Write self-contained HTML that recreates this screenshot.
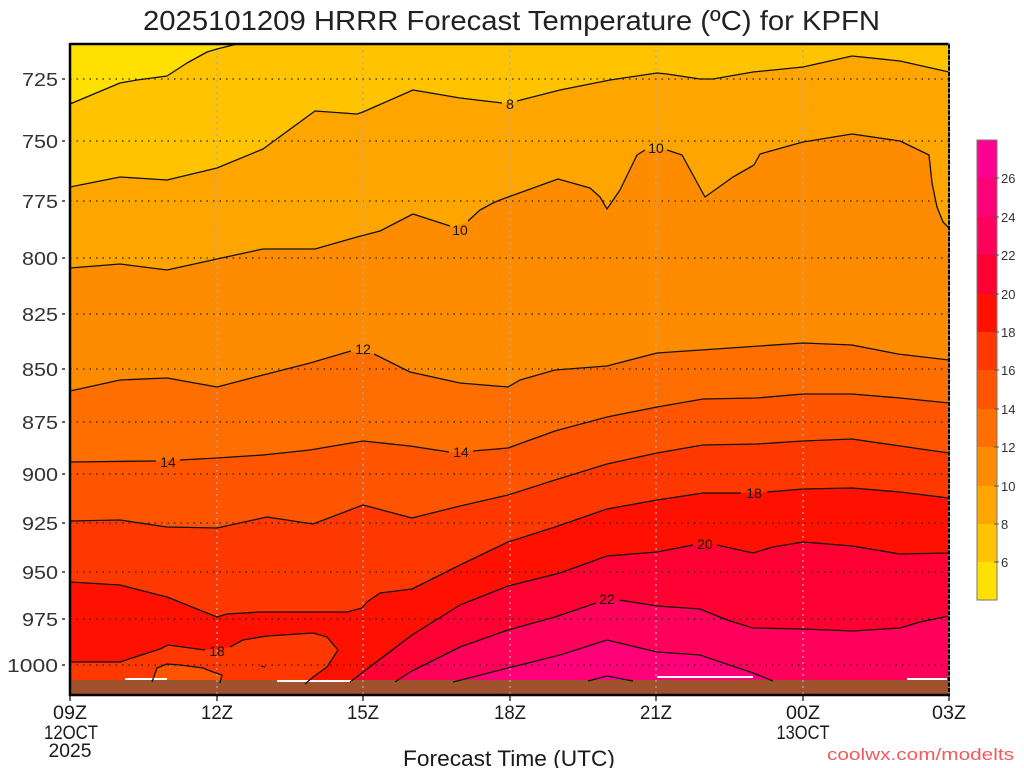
<!DOCTYPE html>
<html><head><meta charset="utf-8"><style>
html,body{margin:0;padding:0;background:#fff;}
svg{display:block;}
text{font-family:"Liberation Sans",sans-serif;}
</style></head><body>
<svg width="1024" height="768" viewBox="0 0 1024 768" xmlns="http://www.w3.org/2000/svg">
<rect x="0" y="0" width="1024" height="768" fill="#fff"/>
<defs><clipPath id="pc"><rect x="70" y="44" width="879" height="651"/></clipPath></defs>
<g clip-path="url(#pc)">
<rect x="70" y="44" width="879" height="651" fill="#FFE000"/>
<polygon fill="#FFC300" points="70,104 120,83 137,80 167,76 187,63 207,52 217,49 237,44 949,44 949,695 70,695"/>
<polygon fill="#FFA500" points="70,187 120,177 167,180 217,168 263,149 315,111 357,114 363,112 413,90 460,98 505,103 513,102 560,90 610,80 657,73 667,74 700,79 713,79 753,72 803,67 852,56 900,61 949,72 949,695 70,695"/>
<polygon fill="#FF8C00" points="70,268 120,264 167,270 217,259 263,249 315,249 357,237 380,231 413,214 452,227 467,222 480,210 493,203 500,200 558,179 590,188 600,197 607,209 620,190 637,155 647,150 667,150 682,155 705,197 733,177 754,165 760,154 767,152 803,142 852,134 900,141 929,155 932,183 937,207 943,222 949,228 949,695 70,695"/>
<polygon fill="#FF6E00" points="70,391 120,380 167,378 217,387 263,375 310,363 350,352 373,354 410,372 460,383 508,387 520,380 555,370 607,366 657,353 803,343 852,345 898,354 949,360 949,695 70,695"/>
<polygon fill="#FF5500" points="70,462 158,461 178,460 217,458 263,455 310,450 363,441 410,446 450,452 472,451 508,448 555,431 607,417 657,407 703,399 757,398 803,394 852,394 900,398 949,403 949,695 70,695"/>
<polygon fill="#FF3800" points="70,521 120,520 167,527 217,528 267,517 313,524 363,505 412,518 460,506 508,495 555,480 607,464 657,453 703,445 757,444 803,441 852,439 900,446 949,453 949,695 70,695"/>
<polygon fill="#FF1000" points="70,582 120,585 167,597 217,617 227,614 260,612 347,612 362,608 367,602 380,593 412,589 460,565 508,542 555,527 607,509 657,500 703,493 742,493 767,492 803,489 852,488 900,492 949,498 949,695 70,695"/>
<polygon fill="#FF3800" points="70,662 120,662 160,649 168,645 205,650 230,647 243,640 267,636 313,633 327,637 338,650 327,667 313,677 305,684 305,695 70,695"/>
<polygon fill="#FF5500" points="152,682 157,668 167,664 180,665 203,668 213,672 222,675 220,684"/>
<polygon fill="#FF0032" points="350,682 412,635 460,605 508,586 560,573 607,556 657,552 694,545 717,545 753,553 773,547 803,542 852,546 900,554 949,553 949,695 350,695"/>
<polygon fill="#FF005A" points="395,682 410,672 460,647 508,630 555,617 598,603 617,600 657,606 700,609 727,620 753,628 803,629 853,631 900,628 920,622 949,616 949,695 395,695"/>
<polygon fill="#FF0078" points="453,682 508,668 560,655 607,640 657,652 700,655 753,673 773,682"/>
<polygon fill="#FF0090" points="588,681 607,676 633,681"/>
<!-- ground -->
<rect x="70" y="680" width="879" height="15" fill="#A0522D"/>
<rect x="125" y="678" width="42" height="2" fill="#fff"/>
<rect x="277" y="680" width="75" height="2" fill="#fff"/>
<rect x="657" y="676" width="96" height="2" fill="#fff"/>
<rect x="907" y="678" width="40" height="2" fill="#fff"/>
<!-- grid -->
<g stroke="#222" stroke-width="1.3" stroke-dasharray="1.5 5">
<line x1="70" y1="79" x2="949" y2="79"/>
<line x1="70" y1="141" x2="949" y2="141"/>
<line x1="70" y1="201" x2="949" y2="201"/>
<line x1="70" y1="258" x2="949" y2="258"/>
<line x1="70" y1="314" x2="949" y2="314"/>
<line x1="70" y1="369" x2="949" y2="369"/>
<line x1="70" y1="422" x2="949" y2="422"/>
<line x1="70" y1="474" x2="949" y2="474"/>
<line x1="70" y1="523" x2="949" y2="523"/>
<line x1="70" y1="572" x2="949" y2="572"/>
<line x1="70" y1="619" x2="949" y2="619"/>
<line x1="70" y1="665" x2="949" y2="665"/>
</g>
<g stroke="#aaa" stroke-width="1.3" stroke-dasharray="2 4">
<line x1="217" y1="44" x2="217" y2="695"/>
<line x1="363" y1="44" x2="363" y2="695"/>
<line x1="510" y1="44" x2="510" y2="695"/>
<line x1="656" y1="44" x2="656" y2="695"/>
<line x1="803" y1="44" x2="803" y2="695"/>
</g>
<!-- contour lines -->
<g fill="none" stroke="#111" stroke-width="1.3" stroke-linejoin="round">
<polyline points="70,104 120,83 137,80 167,76 187,63 207,52 217,49 237,44"/>
<polyline points="70,187 120,177 167,180 217,168 263,149 315,111 357,114 363,112 413,90 460,98 502,103"/>
<polyline points="517,101 560,90 610,80 657,73 667,74 700,79 713,79 753,72 803,67 852,56 900,61 949,72"/>
<polyline points="70,268 120,264 167,270 217,259 263,249 315,249 357,237 380,231 413,214 450,226"/>
<polyline points="468,221 480,210 493,203 500,200 558,179 590,188 600,197 607,209 620,190 637,155 645,150"/>
<polyline points="667,150 682,155 705,197 733,177 754,165 760,154 767,152 803,142 852,134 900,141 929,155 932,183 937,207 943,222 949,228"/>
<polyline points="70,391 120,380 167,378 217,387 263,375 310,363 351,351"/>
<polyline points="374,354 410,372 460,383 508,387 520,380 555,370 607,366 657,353 803,343 852,345 898,354 949,360"/>
<polyline points="70,462 156,461"/>
<polyline points="180,460 217,458 263,455 310,450 363,441 410,446 449,452"/>
<polyline points="473,451 508,448 555,431 607,417 657,407 703,399 757,398 803,394 852,394 900,398 949,403"/>
<polyline points="70,521 120,520 167,527 217,528 267,517 313,524 363,505 412,518 460,506 508,495 555,480 607,464 657,453 703,445 757,444 803,441 852,439 900,446 949,453"/>
<polyline points="70,582 120,585 167,597 217,617 227,614 260,612 347,612 362,608 367,602 380,593 412,589 460,565 508,542 555,527 607,509 657,500 703,493 741,493"/>
<polyline points="767,492 803,489 852,488 900,492 949,498"/>
<polyline points="70,662 120,662 160,649 168,645 205,650"/>
<polyline points="230,647 243,640 267,636 313,633 327,637 338,650 327,667 313,677 305,684"/>
<polyline points="152,682 157,668 167,664 180,665 203,668 213,672 222,675 220,683"/>
<polyline points="350,682 412,635 460,605 508,586 560,573 607,556 657,552 693,545"/>
<polyline points="717,545 753,553 773,547 803,542 852,546 900,554 949,553"/>
<polyline points="395,682 410,672 460,647 508,630 555,617 596,603"/>
<polyline points="619,600 657,606 700,609 727,620 753,628 803,629 853,631 900,628 920,622 949,616"/>
<polyline points="453,682 508,668 560,655 607,640 657,652 700,655 753,673 773,681"/>
<polyline points="588,681 607,676 633,681"/>
<line x1="261" y1="666" x2="265" y2="667"/>
</g>
<!-- contour labels -->
<g font-size="14" fill="#111" text-anchor="middle">
<text x="510" y="109">8</text>
<text x="460" y="235">10</text>
<text x="656" y="153">10</text>
<text x="363" y="354">12</text>
<text x="168" y="467">14</text>
<text x="461" y="457">14</text>
<text x="754" y="498">18</text>
<text x="217" y="656">18</text>
<text x="705" y="549">20</text>
<text x="607" y="604">22</text>
</g>
</g>
<!-- frame -->
<line x1="70" y1="44" x2="949" y2="44" stroke="#000" stroke-width="2.5"/>
<line x1="70" y1="43" x2="70" y2="696" stroke="#000" stroke-width="2.5"/>
<line x1="69" y1="695" x2="950" y2="695" stroke="#000" stroke-width="2.5"/>
<line x1="949" y1="43" x2="949" y2="696" stroke="#000" stroke-width="2"/>
<line x1="949" y1="43" x2="949" y2="696" stroke="#fff" stroke-width="1" stroke-dasharray="1.5 4"/>
<!-- ticks -->
<g stroke="#000" stroke-width="1.2">
<line x1="62" y1="79" x2="65" y2="79"/><line x1="62" y1="141" x2="65" y2="141"/>
<line x1="62" y1="201" x2="65" y2="201"/><line x1="62" y1="258" x2="65" y2="258"/>
<line x1="62" y1="314" x2="65" y2="314"/><line x1="62" y1="369" x2="65" y2="369"/>
<line x1="62" y1="422" x2="65" y2="422"/><line x1="62" y1="474" x2="65" y2="474"/>
<line x1="62" y1="523" x2="65" y2="523"/><line x1="62" y1="572" x2="65" y2="572"/>
<line x1="62" y1="619" x2="65" y2="619"/><line x1="62" y1="665" x2="65" y2="665"/>
<line x1="70" y1="695" x2="70" y2="701"/><line x1="217" y1="695" x2="217" y2="701"/>
<line x1="363" y1="695" x2="363" y2="701"/><line x1="510" y1="695" x2="510" y2="701"/>
<line x1="656" y1="695" x2="656" y2="701"/><line x1="803" y1="695" x2="803" y2="701"/>
<line x1="949" y1="695" x2="949" y2="701"/>
</g>
<g font-size="18" fill="#333" text-anchor="end">
<text x="58" y="86" textLength="36" lengthAdjust="spacingAndGlyphs">725</text>
<text x="58" y="148" textLength="36" lengthAdjust="spacingAndGlyphs">750</text>
<text x="58" y="208" textLength="36" lengthAdjust="spacingAndGlyphs">775</text>
<text x="58" y="265" textLength="36" lengthAdjust="spacingAndGlyphs">800</text>
<text x="58" y="321" textLength="36" lengthAdjust="spacingAndGlyphs">825</text>
<text x="58" y="376" textLength="36" lengthAdjust="spacingAndGlyphs">850</text>
<text x="58" y="429" textLength="36" lengthAdjust="spacingAndGlyphs">875</text>
<text x="58" y="481" textLength="36" lengthAdjust="spacingAndGlyphs">900</text>
<text x="58" y="530" textLength="36" lengthAdjust="spacingAndGlyphs">925</text>
<text x="58" y="579" textLength="36" lengthAdjust="spacingAndGlyphs">950</text>
<text x="58" y="626" textLength="36" lengthAdjust="spacingAndGlyphs">975</text>
<text x="58" y="672" textLength="51" lengthAdjust="spacingAndGlyphs">1000</text>
</g>
<g font-size="19" fill="#1a1a1a" text-anchor="middle">
<text x="70" y="719" textLength="34" lengthAdjust="spacingAndGlyphs">09Z</text>
<text x="71" y="739" textLength="54" lengthAdjust="spacingAndGlyphs">12OCT</text>
<text x="70" y="757" textLength="43" lengthAdjust="spacingAndGlyphs">2025</text>
<text x="217" y="719" textLength="32" lengthAdjust="spacingAndGlyphs">12Z</text>
<text x="363" y="719" textLength="32" lengthAdjust="spacingAndGlyphs">15Z</text>
<text x="510" y="719" textLength="32" lengthAdjust="spacingAndGlyphs">18Z</text>
<text x="656" y="719" textLength="32" lengthAdjust="spacingAndGlyphs">21Z</text>
<text x="803" y="719" textLength="34" lengthAdjust="spacingAndGlyphs">00Z</text>
<text x="803" y="739" textLength="53" lengthAdjust="spacingAndGlyphs">13OCT</text>
<text x="949" y="719" textLength="34" lengthAdjust="spacingAndGlyphs">03Z</text>
</g>
<text x="143" y="30" font-size="28" fill="#222" textLength="737" lengthAdjust="spacingAndGlyphs">2025101209 HRRR Forecast Temperature (ºC) for KPFN</text>
<text x="403" y="766" font-size="22" fill="#1a1a1a" textLength="212" lengthAdjust="spacingAndGlyphs">Forecast Time (UTC)</text>
<text x="827" y="760" font-size="17" fill="#F05A5A" textLength="187" lengthAdjust="spacingAndGlyphs">coolwx.com/modelts</text>
<!-- colorbar -->
<g>
<rect x="977" y="140" width="20" height="38" fill="#FF0090"/>
<rect x="977" y="178" width="20" height="39" fill="#FF0078"/>
<rect x="977" y="217" width="20" height="38" fill="#FF005A"/>
<rect x="977" y="255" width="20" height="39" fill="#FF0032"/>
<rect x="977" y="294" width="20" height="38" fill="#FF1000"/>
<rect x="977" y="332" width="20" height="38" fill="#FF3800"/>
<rect x="977" y="370" width="20" height="39" fill="#FF5500"/>
<rect x="977" y="409" width="20" height="38" fill="#FF6E00"/>
<rect x="977" y="447" width="20" height="39" fill="#FF8C00"/>
<rect x="977" y="486" width="20" height="38" fill="#FFA500"/>
<rect x="977" y="524" width="20" height="38" fill="#FFC300"/>
<rect x="977" y="562" width="20" height="38" fill="#FFE000"/>
<rect x="977" y="140" width="20" height="460" fill="none" stroke="#777" stroke-width="1"/>
<g stroke="#555" stroke-width="1">
<line x1="994" y1="178" x2="999" y2="178"/><line x1="994" y1="217" x2="999" y2="217"/>
<line x1="994" y1="255" x2="999" y2="255"/><line x1="994" y1="294" x2="999" y2="294"/>
<line x1="994" y1="332" x2="999" y2="332"/><line x1="994" y1="370" x2="999" y2="370"/>
<line x1="994" y1="409" x2="999" y2="409"/><line x1="994" y1="447" x2="999" y2="447"/>
<line x1="994" y1="486" x2="999" y2="486"/><line x1="994" y1="524" x2="999" y2="524"/>
<line x1="994" y1="562" x2="999" y2="562"/>
</g>
<g font-size="13" fill="#333">
<text x="1001" y="183">26</text><text x="1001" y="222">24</text>
<text x="1001" y="260">22</text><text x="1001" y="299">20</text>
<text x="1001" y="337">18</text><text x="1001" y="375">16</text>
<text x="1001" y="414">14</text><text x="1001" y="452">12</text>
<text x="1001" y="491">10</text><text x="1001" y="529">8</text>
<text x="1001" y="567">6</text>
</g>
</g>
</svg>
</body></html>
